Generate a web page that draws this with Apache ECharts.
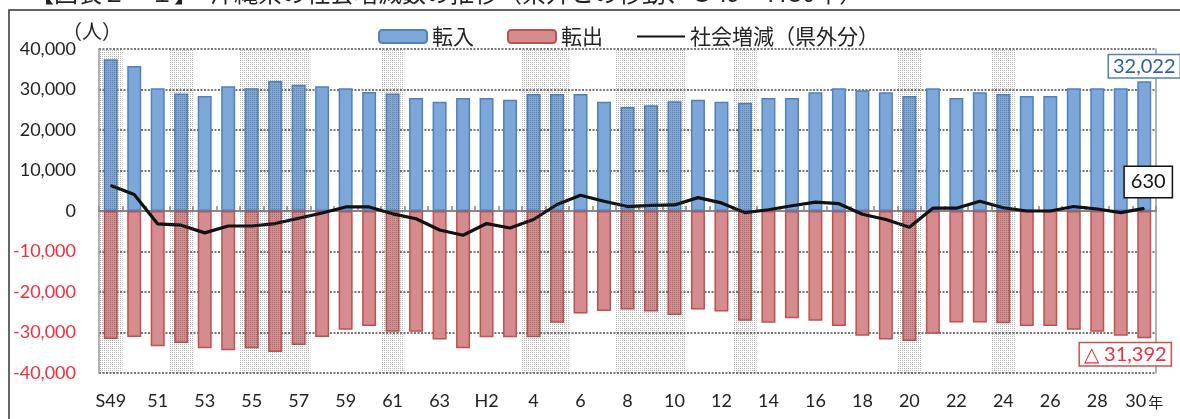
<!DOCTYPE html>
<html>
<head>
<meta charset="utf-8">
<title>沖縄県の社会増減数の推移</title>
<script src="https://cdn.jsdelivr.net/npm/echarts@6/dist/echarts.min.js"></script>
<style>
  html, body { margin: 0; padding: 0; background: #fff; }
  #chart { width: 1180px; height: 419px; }
</style>
</head>
<body>
<div id="chart"></div>
<script>
// 年（S49〜H30）の目盛ラベル
const years = ['S49', '50', '51', '52', '53', '54', '55', '56', '57', '58', '59', '60', '61', '62', '63',
  'H1', 'H2', '3', '4', '5', '6', '7', '8', '9', '10', '11', '12', '13', '14', '15', '16',
  '17', '18', '19', '20', '21', '22', '23', '24', '25', '26', '27', '28', '29', '30'];

// 転入（人）
const tennyu = [37500, 35800, 30300, 29000, 28400, 30800, 30300, 32100, 31200, 30800, 30300, 29400, 29000, 27900, 27000,
  27900, 27900, 27500, 28900, 28900, 28900, 27000, 25700, 26100, 27100, 27500, 27000, 26700, 27900, 27900, 29300,
  30300, 29800, 29300, 28400, 30300, 27900, 29300, 28900, 28400, 28400, 30300, 30300, 30300, 32022];

// 転出（人、マイナス表示）
const tenshutsu = [-31600, -31100, -33400, -32600, -33900, -34400, -33900, -34800, -33100, -31100, -29300, -28400, -29800, -29800, -31700,
  -33900, -31200, -31200, -31200, -27600, -25300, -24700, -24300, -24800, -25700, -24300, -24800, -27100, -27600, -26500, -27100,
  -28400, -30800, -31700, -32100, -30300, -27500, -27500, -27700, -28400, -28400, -29300, -29800, -30800, -31392];

// 社会増減（県外分）
const zogen = [6300, 4100, -3200, -3500, -5400, -3700, -3700, -3100, -1800, -500, 1000, 1000, -700, -1900, -4700,
  -6000, -3100, -4200, -2100, 1600, 3900, 2400, 1100, 1400, 1500, 3300, 2000, -400, 300, 1300, 2200,
  1800, -800, -2100, -4000, 700, 700, 2400, 800, 0, 0, 1100, 500, -400, 630];

// 網掛けの年
const shadeYears = ['S49', '52', '55', '56', '57', '61', '4', '5', '8', '9', '10', '13', '20', '24'];

const numFont = 'Lato, "Liberation Sans", sans-serif';
const jpFont = '"Noto Sans CJK JP", sans-serif';
const last = years.length - 1;

// 網掛けのドット模様
function dotPattern() {
  const c = document.createElement('canvas');
  c.width = 2;
  c.height = 2;
  const g = c.getContext('2d');
  g.fillStyle = 'rgba(80,80,80,0.42)';
  g.fillRect(0, 0, 1, 1);
  return c;
}
const pattern = { image: dotPattern(), repeat: 'repeat' };

const shadeUp = years.map(y => (shadeYears.includes(y) ? 40000 : null));
const shadeDown = years.map(y => (shadeYears.includes(y) ? -40000 : null));

const boxLabel = {
  show: true,
  fontFamily: numFont,
  fontSize: 20,
  lineHeight: 20,
  backgroundColor: '#fff',
  borderWidth: 1.5
};

const chart = echarts.init(document.getElementById('chart'));
const option = {
  animation: false,
  grid: { left: 99, right: 24, top: 49, bottom: 46 },
  legend: {
    left: 373,
    top: 21,
    itemWidth: 48,
    itemHeight: 13,
    itemGap: 33,
    data: [
      '転入',
      '転出',
      { name: '社会増減（県外分）', itemStyle: { opacity: 0 } }
    ],
    textStyle: { fontFamily: jpFont, fontSize: 21, color: '#222' }
  },
  graphic: [
    {
      type: 'rect',
      silent: true,
      shape: { x: 9, y: 10, width: 1300, height: 500 },
      style: { fill: 'none', stroke: '#333', lineWidth: 1.5 }
    },
    {
      type: 'text',
      silent: true,
      x: 30,
      y: 5,
      style: {
        text: '【図表２－１】　沖縄県の社会増減数の推移（県外との移動、Ｓ49～Ｈ30年）',
        font: '24px "Noto Sans CJK JP"',
        fill: '#222',
        verticalAlign: 'bottom'
      }
    },
    {
      type: 'text',
      silent: true,
      x: 92,
      y: 31,
      style: {
        text: '（人）',
        font: '20px "Noto Sans CJK JP"',
        fill: '#222',
        align: 'center',
        verticalAlign: 'middle'
      }
    }
  ],
  xAxis: [
    {
      type: 'category',
      data: years,
      position: 'bottom',
      axisLine: { show: false, onZero: false },
      axisTick: { show: false },
      axisLabel: {
        interval: 1,
        margin: 19,
        fontFamily: numFont,
        fontSize: 18,
        color: '#222',
        formatter: v => (v === years[last] ? v + '{n|年}' : v),
        rich: { n: { fontFamily: jpFont, fontSize: 15, color: '#222', padding: [2, 0, 0, 2] } }
      }
    },
    {
      type: 'category',
      data: years,
      axisLine: { onZero: true, lineStyle: { color: '#888', width: 2 } },
      axisTick: { show: true, interval: 0, length: 5, lineStyle: { color: '#888', width: 1.5 } },
      axisLabel: { show: false }
    },
    {
      type: 'category',
      data: years,
      show: false
    }
  ],
  yAxis: [
    {
      type: 'value',
      min: -40000,
      max: 40000,
      interval: 10000,
      axisLine: { show: true, lineStyle: { color: '#999', width: 1.5 } },
      axisTick: { show: false },
      splitLine: { lineStyle: { color: '#777', width: 2, type: [2, 1.5] } },
      axisLabel: {
        margin: 23,
        fontFamily: numFont,
        fontSize: 18,
        formatter: v => v.toLocaleString('en-US'),
        color: v => (Number(v) < 0 ? '#f0303c' : '#222')
      }
    },
    {
      type: 'value',
      min: -40000,
      max: 40000,
      interval: 10000,
      position: 'right',
      axisLine: { show: true, lineStyle: { color: '#999', width: 1.5 } },
      axisTick: { show: false },
      axisLabel: { show: false },
      splitLine: { show: false }
    }
  ],
  series: [
    {
      name: '転入',
      type: 'bar',
      stack: 'main',
      barWidth: 14,
      itemStyle: { color: '#7da7d8', borderColor: '#4f81bd', borderWidth: 1.5 },
      data: tennyu.map((v, i) => i === last ? {
        value: v,
        label: Object.assign({}, boxLabel, {
          position: 'top',
          distance: 4,
          padding: [1, 4, 1, 4],
          color: '#2f5fa8',
          borderColor: '#4f81bd',
          formatter: p => p.value.toLocaleString('en-US')
        })
      } : v)
    },
    {
      name: '転出',
      type: 'bar',
      stack: 'main',
      barWidth: 14,
      itemStyle: { color: '#d48c8e', borderColor: '#c0504d', borderWidth: 1.5 },
      data: tenshutsu.map((v, i) => i === last ? {
        value: v,
        label: Object.assign({}, boxLabel, {
          position: 'bottom',
          distance: 5,
          offset: [-19, 0],
          padding: [1, 4, 1, 4],
          color: '#f0303c',
          borderColor: '#d0504d',
          formatter: p => '△ ' + Math.abs(p.value).toLocaleString('en-US')
        })
      } : v)
    },
    {
      name: '社会増減（県外分）',
      type: 'line',
      symbol: 'circle',
      symbolSize: 1,
      z: 3,
      lineStyle: { color: '#111', width: 3.2 },
      itemStyle: { color: '#111' },
      data: zogen.map((v, i) => i === last ? {
        value: v,
        label: Object.assign({}, boxLabel, {
          position: 'top',
          distance: 11,
          offset: [4, 0],
          padding: [5, 6, 5, 6],
          color: '#111',
          borderColor: '#111',
          formatter: p => p.value.toLocaleString('en-US')
        })
      } : v)
    },
    {
      name: 'shadeUp',
      type: 'bar',
      xAxisIndex: 2,
      stack: 'shade',
      barWidth: '100%',
      silent: true,
      z: 4,
      itemStyle: { color: pattern },
      data: shadeUp
    },
    {
      name: 'shadeDown',
      type: 'bar',
      xAxisIndex: 2,
      stack: 'shade',
      barWidth: '100%',
      silent: true,
      z: 4,
      itemStyle: { color: pattern },
      data: shadeDown
    }
  ]
};
chart.setOption(option);
</script>
</body>
</html>
